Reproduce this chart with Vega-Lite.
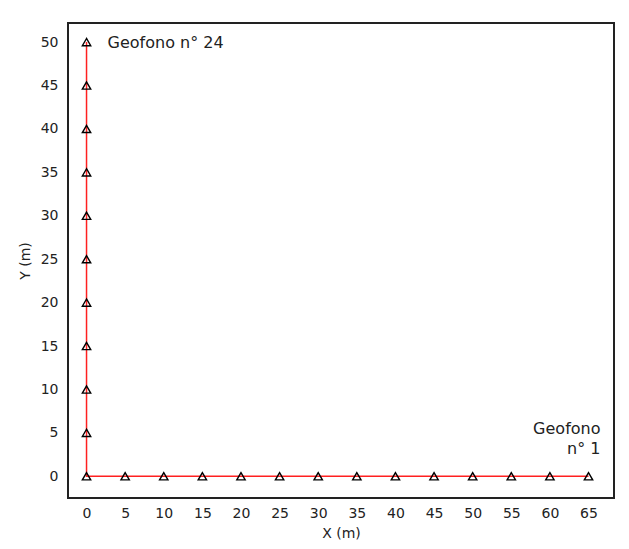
{
  "$schema": "https://vega.github.io/schema/vega-lite/v6.json",
  "width": 546,
  "height": 475,
  "padding": {"left": 68, "top": 23, "right": 15, "bottom": 51},
  "autosize": {"type": "none"},
  "background": "white",
  "config": {
    "view": {"stroke": "#222", "strokeWidth": 2},
    "axis": {
      "grid": false, "ticks": false, "domain": false,
      "labelFont": "DejaVu Sans", "labelFontSize": 14, "labelColor": "#222",
      "titleFont": "DejaVu Sans", "titleFontSize": 14, "titleFontWeight": "normal", "titleColor": "#222"
    }
  },
  "data": {"values": [
    {"g": 1, "x": 65, "y": 0}, {"g": 2, "x": 60, "y": 0}, {"g": 3, "x": 55, "y": 0},
    {"g": 4, "x": 50, "y": 0}, {"g": 5, "x": 45, "y": 0}, {"g": 6, "x": 40, "y": 0},
    {"g": 7, "x": 35, "y": 0}, {"g": 8, "x": 30, "y": 0}, {"g": 9, "x": 25, "y": 0},
    {"g": 10, "x": 20, "y": 0}, {"g": 11, "x": 15, "y": 0}, {"g": 12, "x": 10, "y": 0},
    {"g": 13, "x": 5, "y": 0}, {"g": 14, "x": 0, "y": 0}, {"g": 15, "x": 0, "y": 5},
    {"g": 16, "x": 0, "y": 10}, {"g": 17, "x": 0, "y": 15}, {"g": 18, "x": 0, "y": 20},
    {"g": 19, "x": 0, "y": 25}, {"g": 20, "x": 0, "y": 30}, {"g": 21, "x": 0, "y": 35},
    {"g": 22, "x": 0, "y": 40}, {"g": 23, "x": 0, "y": 45}, {"g": 24, "x": 0, "y": 50}
  ]},
  "encoding": {
    "x": {"field": "x", "type": "quantitative", "title": "X (m)",
      "scale": {"domain": [-2.4, 68.3], "nice": false, "zero": false},
      "axis": {"values": [0,5,10,15,20,25,30,35,40,45,50,55,60,65], "labelPadding": 8, "titlePadding": 6}},
    "y": {"field": "y", "type": "quantitative", "title": "Y (m)",
      "scale": {"domain": [-2.5, 52.2], "nice": false, "zero": false},
      "axis": {"values": [0,5,10,15,20,25,30,35,40,45,50], "labelPadding": 10, "titlePadding": 8}}
  },
  "layer": [
    {"mark": {"type": "line", "color": "#ff2020", "strokeWidth": 1.5}, "encoding": {"order": {"field": "g"}}},
    {"mark": {"type": "point", "shape": "triangle-up", "filled": false, "stroke": "black", "strokeWidth": 1.4, "size": 70, "opacity": 1}},
    {"transform": [{"filter": "datum.g == 24"}],
      "mark": {"type": "text", "text": "Geofono n° 24", "align": "left", "baseline": "middle", "dx": 21, "dy": 1, "font": "DejaVu Sans", "fontSize": 16, "color": "#222"}},
    {"transform": [{"filter": "datum.g == 1"}],
      "mark": {"type": "text", "text": ["Geofono", "n° 1"], "align": "right", "baseline": "bottom", "dx": 12, "dy": -39, "lineHeight": 20, "font": "DejaVu Sans", "fontSize": 16, "color": "#222"}}
  ]
}
